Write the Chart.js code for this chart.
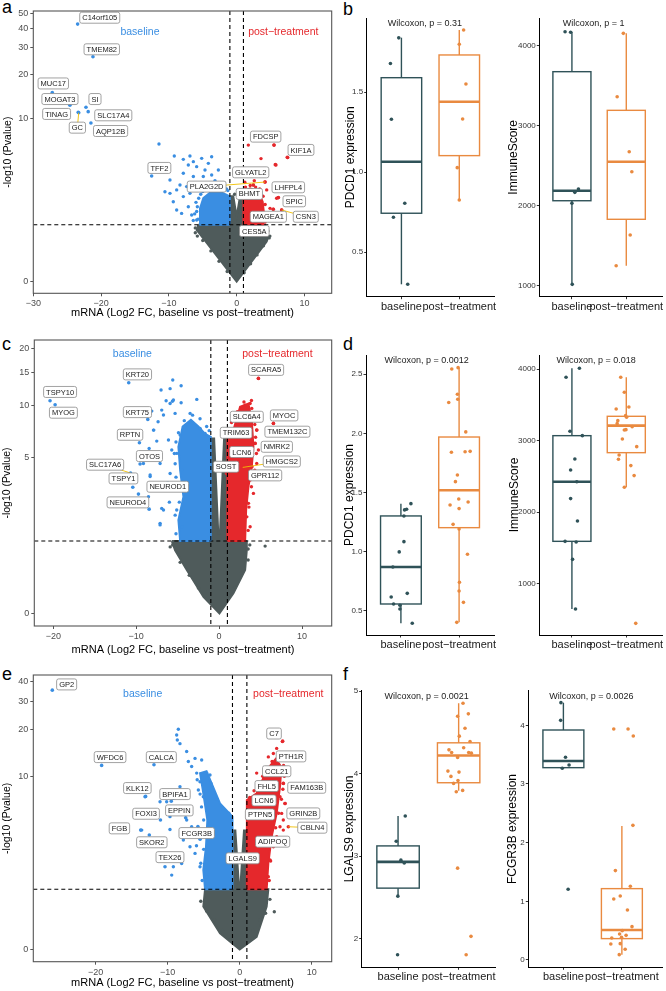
<!DOCTYPE html>
<html>
<head>
<meta charset="utf-8">
<title>Volcano plots and box plots</title>
<script src="https://cdn.jsdelivr.net/npm/chart.js"></script>
<style>
  body { margin: 0; background: #fff; width: 666px; height: 991px; position: relative; overflow: hidden;
         font-family: "Liberation Sans", Arial, sans-serif; }
  canvas { position: absolute; }
  .tag { position: absolute; font-size: 18px; line-height: 18px; color: #000; }
</style>
</head>
<body>
<div class="tag" style="left:2px;top:-2px">a</div>
<div class="tag" style="left:343px;top:0px">b</div>
<div class="tag" style="left:2px;top:335px">c</div>
<div class="tag" style="left:343px;top:335px">d</div>
<div class="tag" style="left:2px;top:665px">e</div>
<div class="tag" style="left:343px;top:665px">f</div>

<canvas id="volA" width="336" height="322" style="left:0;top:0"></canvas>
<canvas id="volC" width="336" height="329" style="left:0;top:330px"></canvas>
<canvas id="volE" width="336" height="331" style="left:0;top:660px"></canvas>
<canvas id="boxB1" width="160" height="322" style="left:340px;top:0"></canvas>
<canvas id="boxB2" width="166" height="322" style="left:500px;top:0"></canvas>
<canvas id="boxD1" width="160" height="329" style="left:340px;top:330px"></canvas>
<canvas id="boxD2" width="166" height="329" style="left:500px;top:330px"></canvas>
<canvas id="boxF1" width="160" height="331" style="left:340px;top:660px"></canvas>
<canvas id="boxF2" width="166" height="331" style="left:500px;top:660px"></canvas>

<script>
// ---------- shared ----------
const groupNames = ['baseline', 'post\u2212treatment'];
const pCutoff = 0.05;   // horizontal dashed line
const fcCutoff = 1;     // vertical dashed lines at +-1

// ---------- panel a (volcano) ----------
const aXTicks = [-30, -20, -10, 0, 10];
const aYTicks = [0, 10, 20, 30, 40, 50];
const aGenes = ['C14orf105','TMEM82','MUC17','MOGAT3','SI','TINAG','SLC17A4','GC','AQP12B','TFF2',
                'FDCSP','KIF1A','GLYATL2','PLA2G2D','LHFPL4','BHMT','SPIC','MAGEA1','CSN3','CES5A'];
const aGeneFC = [-23.46,-21.2,-27.2,-24.6,-22.23,-23.37,-21.9,-23.3,-21.5,-12.54,
                 5.51,7.47,2.46,4.18,5.7,1.87,6.15,5.4,6.64,1.5];
const aGeneP  = [42.7,26.1,15.0,12.3,11.9,10.98,11.1,10.9,9.25,3.71,
                 6.41,5.19,3.13,3.31,4.56,2.4,2.43,1.89,1.86,1.4];
const aBluePts = [[-11.46,6.53],[-9.2,5.31],[-7.87,5.01],[-6.89,5.31],[-6.39,4.81],[-5.16,5.1],[-3.69,5.25],
  [-4.18,4.67],[-5.9,4.4],[-7.13,4.53],[-4.67,4.14],[-2.7,4.14],[-7.87,3.9],[-6.39,3.67],[-4.92,3.67],
  [-3.69,3.78],[-9.84,3.44],[-8.36,3.13],[-7.38,3.03],[-10.58,2.74],[-9.84,2.65],[-8.85,2.84],[-7.87,2.48],
  [-6.89,2.65],[-9.35,2.23],[-8.85,1.86],[-8.12,1.72],[-7.13,2.0],[-6.64,1.66],[-5.9,1.47],[-2.95,3.13],
  [-6.0,2.2],[-5.9,1.8],[-6.4,1.45],[-5.2,3.0],[-4.4,3.2],[-3.2,3.4],[-2.0,3.0],[-1.5,2.9],
  [-5.7,1.5],[-5.8,2.0],[-5.6,2.4],[-5.3,2.6],[-4.6,2.9],[-3.9,3.0],[-3.0,3.0],[-2.2,2.95],[-1.3,2.8],
  [-6.2,1.7],[-5.0,2.75],[-3.5,2.9]];
const aRedPts = [[1.72,6.41],[5.51,6.41],[7.53,5.17],[5.8,4.53],[3.59,5.08],[4.43,2.84],[5.9,2.4],[6.64,1.86],
  [4.92,1.93],[3.44,2.48],[2.46,3.13],[4.18,3.31],[6.15,2.43],[5.4,1.89],
  [1.3,3.0],[2.0,3.1],[2.8,3.0],[3.4,2.9],[3.9,2.5],[4.2,2.1],[4.3,1.6],[4.2,1.4],[1.2,3.3],[2.6,3.4]];
const aGreyPts = [[-6.1,1.2],[-5.8,0.95],[4.8,0.9],[4.6,1.1],[-0.3,2.6],[0.4,2.4],
  [-1.4,0.16],[-2.6,0.35],[-3.8,0.57],[-5.0,0.83],[-6.1,1.05],[1.1,0.14],[2.05,0.30],[3.0,0.48],[3.95,0.69],[4.9,0.95]];
const aGreyArea = [[-5.66,1.30],[-1,1.30],[-1,2.5],[-0.5,2.5],[0,1.6],[0.5,2.5],[1,2.5],[1,1.30],[4.18,1.30],
  [4.67,0.93],[4.43,0.80],[0,0],[-5.5,1.03],[-5.9,1.13],[-5.66,1.30]];
const aBlueArea = [[-1,1.30],[-5.5,1.30],[-5.41,1.93],[-4.92,2.4],[-3.93,2.69],[-2.46,2.74],[-1.38,2.56],
  [-1,2.48],[-1,1.30]];
const aRedArea = [[1,1.30],[1,2.74],[1.97,2.93],[3.2,2.74],[3.84,2.23],[4.03,1.72],[3.93,1.30],[1,1.30]];

// ---------- panel c (volcano) ----------
const cXTicks = [-20, -10, 0, 10];
const cYTicks = [0, 5, 10, 15, 20];
const cGenes = ['TSPY10','MYOG','KRT20','KRT75','RPTN','OTOS','SLC17A6','TSPY1','NEUROD1','NEUROD4',
                'SCARA5','SLC6A4','MYOC','TRIM63','TMEM132C','NMRK2','LCN6','HMGCS2','SOST','GPR112'];
const cGeneFC = [-20.39,-19.78,-10.9,-8.6,-9.61,-9.53,-10.68,-10.41,-9.73,-8.44,
                 4.74,2.5,6.55,2.0,4.54,4.34,2.5,2.85,0.9,3.94];
const cGeneP  = [10.57,10.05,13.24,8.33,6.13,4.58,4.03,3.27,2.95,2.32,
                 13.96,8.0,7.91,6.5,7.25,6.08,5.0,4.37,4.0,4.41];
const cBluePts = [[-4.58,12.75],[-5.91,12.3],[-5.51,10.66],[-5.91,10.2],[-5.31,9.0],[-2.69,10.75],[-3.5,9.0],
  [-6.92,9.39],[-6.71,8.81],[-7.92,7.25],[-6.11,6.36],[-5.71,5.56],[-7.12,4.62],[-8.32,3.83],[-7.92,3.30],
  [-8.52,2.83],[-7.12,1.82],[-6.92,2.35],[-5.91,4.01],[-5.51,3.30],[-5.11,2.29],[-4.5,1.71],[-1.69,6.94],
  [-2.29,7.41],[-3.3,7.91],[-4.1,7.58],[-4.7,6.79],[-5.11,5.31],[-4.5,4.21],[-5.59,13.7],[-7.0,12.1],
  [-6.39,10.57],[-5.63,10.5],[-4.58,10.3],[-8.12,9.27],[-7.36,8.09],[-7.88,7.25],[-7.52,6.27],[-8.44,5.68],
  [-9.13,4.62],[-8.32,3.92],[-6.71,2.29],[-7.12,1.77],
  [-5.2,1.5],[-5.3,2.1],[-4.8,2.6],[-5.0,3.2],[-5.2,3.8],[-5.3,4.6],[-5.4,5.3],[-5.2,6.2],[-4.9,7.0],
  [-4.2,8.2],[-3.2,8.8],[-2.3,8.4],[-1.5,7.6],[-1.2,7.2],[-6.0,2.6],[-6.2,3.5]];
const cRedPts = [[3.74,10.2],[3.14,10.0],[3.94,9.59],[4.14,8.62],[3.54,8.62],[6.55,7.91],[4.54,7.25],[3.94,6.64],
  [4.34,6.08],[4.74,5.56],[3.74,5.07],[4.54,4.62],[3.94,4.41],[3.74,3.64],[4.14,2.98],[3.54,2.55],[3.34,2.04],
  [3.74,1.71],[4.74,13.96],
  [3.5,1.6],[3.6,2.4],[3.9,3.3],[4.3,4.2],[4.5,5.3],[4.4,6.6],[4.3,7.8],[4.1,9.0],[3.9,10.6],[3.0,10.4],
  [2.2,9.2],[1.5,8.0],[1.2,7.2]];
const cGreyPts = [[5.55,1.17],[-5.6,1.2],[3.5,1.1],
  [-1.3,0.16],[-2.5,0.34],[-3.6,0.55],[-4.7,0.8],[-5.9,1.15],[1.0,0.2],[1.9,0.35],[2.7,0.6],[3.5,0.85],[3.7,1.2]];
const cGreyArea = [[-5.7,1.30],[-1,1.30],[-1,6.5],[-0.6,6.5],[-0.1,1.5],[0.1,1.5],[0.6,6.5],[1,6.5],[1,1.30],
  [3.3,1.30],[3.34,1.07],[3.14,0.65],[1.73,0.26],[0.04,0],[-1.89,0.21],[-3.9,0.65],[-5.31,1.07],[-5.7,1.30]];
const cBlueArea = [[-1,1.30],[-4.70,1.30],[-4.91,1.93],[-4.30,2.83],[-4.70,4.21],[-4.91,5.81],[-4.4,7.6],
  [-3.4,8.3],[-2.5,7.6],[-1.69,6.9],[-1,6.64],[-1,1.30]];
const cRedArea = [[1,1.30],[3.14,1.30],[3.26,2.29],[3.54,3.30],[3.94,4.41],[4.14,5.81],[3.94,8.26],[3.54,10.2],
  [2.53,9.8],[1.73,7.25],[1,6.64],[1,1.30]];

// ---------- panel e (volcano) ----------
const eXTicks = [-20, -10, 0, 10];
const eYTicks = [0, 10, 20, 30, 40];
const eGenes = ['GP2','WFDC6','CALCA','KLK12','BPIFA1','FOXI3','EPPIN','FGB','SKOR2','FCGR3B','TEX26','LGALS9',
                'C7','PTH1R','CCL21','FHL5','FAM163B','LCN6','GRIN2B','PTPN5','CBLN4','ADIPOQ'];
const eGeneFC = [-26.02,-19.17,-11.9,-13.06,-9.5,-11.0,-7.5,-13.75,-12.55,-5.5,-10.37,-1.2,
                 5.97,5.37,4.44,3.0,6.06,2.5,6.3,2.5,6.76,3.5];
const eGeneP  = [35.3,11.8,11.9,7.33,6.8,5.0,5.2,4.22,3.88,3.6,2.14,2.3,
                 16.9,13.0,11.6,8.5,8.97,6.5,6.55,5.2,4.47,3.2];
const eBluePts = [[-8.52,20.1],[-8.75,18.5],[-8.66,17.2],[-8.29,16.3],[-7.36,14.5],[-7.13,12.5],[-6.67,11.6],
  [-6.2,13.1],[-5.28,12.8],[-5.97,10.5],[-5.51,9.2],[-4.58,10.5],[-4.12,10.2],[-5.74,8.1],[-5.05,7.29],
  [-8.29,8.52],[-9.21,7.1],[-10.14,6.74],[-11.06,6.74],[-9.68,5.29],[-8.52,5.58],[-7.36,5.0],[-6.67,4.47],
  [-5.97,3.99],[-6.9,3.15],[-6.2,2.78],[-7.82,3.55],[-10.37,2.53],[-9.21,2.14],[-9.44,1.80],[-8.06,2.29],
  [-5.51,2.14],[-4.58,1.74],[-13.15,7.29],[-13.6,4.22],[-9.68,4.27],
  [-5.2,1.6],[-5.4,2.3],[-5.0,3.0],[-4.9,4.0],[-5.0,5.0],[-5.3,6.2],[-5.5,7.6],[-5.9,9.5],[-4.0,9.0],
  [-3.2,7.0],[-2.3,6.0],[-1.5,5.6],[-6.0,3.2],[-5.8,4.5]];
const eRedPts = [[5.93,16.8],[5.14,15.2],[4.68,14.1],[3.98,13.4],[5.14,12.8],[4.44,11.6],[3.75,10.2],[2.36,10.5],
  [5.37,10.2],[6.06,8.97],[5.14,8.52],[5.6,7.29],[6.3,6.55],[5.83,5.58],[6.06,5.0],[5.6,4.47],[6.06,4.22],
  [5.14,3.76],[4.68,3.15],[4.21,2.45],[3.98,1.74],
  [4.1,1.6],[4.3,2.4],[4.7,3.3],[5.0,4.4],[5.4,5.6],[5.8,7.0],[6.0,8.2],[6.2,10.0],[6.1,11.8],[4.5,12.5],
  [3.2,10.0],[2.0,8.0],[1.4,7.2]];
const eGreyPts = [[4.81,0.686],
  [-1.3,0.15],[-2.4,0.3],[-3.5,0.5],[-4.6,0.7],[-5.4,0.95],[1.0,0.14],[1.9,0.3],[2.8,0.5],[3.6,0.65],[4.2,1.0]];
const eGreyArea = [[-4.81,1.30],[-1,1.30],[-1,4.2],[-0.6,4.2],[-0.1,1.4],[0.1,1.4],[0.6,4.2],[1,4.2],[1,1.30],
  [3.98,1.30],[3.75,0.81],[2.36,0.19],[0,0],[-2.73,0.25],[-5.05,0.81],[-4.81,1.30]];
const eBlueArea = [[-1,1.30],[-4.81,1.30],[-5.05,2.0],[-4.68,3.15],[-4.49,5.0],[-5.05,7.68],[-5.5,10.5],
  [-4.6,10.8],[-2.73,6.56],[-1,5.29],[-1,1.30]];
const eRedArea = [[1,1.30],[3.75,1.30],[3.98,2.29],[4.44,3.76],[5.14,5.58],[5.6,8.52],[5.8,11.5],[5.0,13.0],
  [3.75,11.0],[2.36,7.68],[1,6.91],[1,1.30]];

// ---------- panel b (box plots) ----------
const b1Base = [1.84,1.68,1.331,0.806,0.719,0.30];
const b1BaseJit = [-0.046,-0.19,-0.173,0.058,-0.138,0.109];
const b1Post = [1.889,1.80,1.552,1.333,1.029,0.827];
const b1PostJit = [0.075,0,0.115,0.058,-0.035,0];
const b1BaseBox = [0.30,0.744,1.066,1.591,1.841];   // lower whisker, q1, median, q3, upper whisker
const b1PostBox = [0.827,1.104,1.441,1.733,1.889];
const b1YTicks = [0.5, 1.0, 1.5];

const b2Base = [4175,4167,2209,2167,2030,1017];
const b2BaseJit = [-0.126,-0.024,0.12,0.054,0,0.006];
const b2Post = [4154,3362,2675,2425,1634,1250];
const b2PostJit = [-0.054,-0.168,0.054,0.102,0.072,-0.186];
const b2BaseBox = [1017,2062,2187,3675,4175];
const b2PostBox = [1250,1830,2550,3192,4154];
const b2YTicks = [1000, 2000, 3000, 4000];

// ---------- panel d (box plots) ----------
const d1Base = [1.407,1.359,1.354,1.303,1.086,0.999,0.872,0.649,0.618,0.559,0.548,0.517,0.396];
const d1BaseJit = [0.172,0.098,0.063,0.052,0.052,-0.029,-0.138,0.109,-0.167,-0.126,-0.017,-0.017,0.195];
const d1Post = [2.545,2.556,2.331,2.289,2.261,2.013,1.841,1.846,1.849,1.649,1.593,1.446,1.421,1.396,1.365,
                1.232,1.193,0.979,0.742,0.669,0.573,0.404];
const d1PostJit = [-0.126,-0.017,-0.029,-0.023,-0.178,0.115,-0.132,0.103,0.19,-0.029,-0.063,-0.006,0.155,-0.155,0,
                   -0.103,0,0.144,0.006,0,0.075,-0.04];
const d1BaseBox = [0.396,0.559,0.872,1.303,1.407];
const d1PostBox = [0.404,1.204,1.520,1.970,2.556];
const d1YTicks = [0.5, 1.0, 1.5, 2.0, 2.5];

const d2Base = [4014,3888,3132,3071,2745,2591,2427,2190,1877,1592,1583,1340,645];
const d2BaseJit = [0.138,-0.108,-0.036,0.192,0.054,-0.024,0.09,-0.024,0.102,-0.126,0.078,0.012,0.066];
const d2Post = [3888,3678,3445,3473,3351,3328,3281,3239,3155,3151,3197,3025,2917,2801,2740,2652,2512,2348,444];
const d2PostJit = [-0.102,-0.036,-0.186,0.048,-0.012,0.006,-0.156,-0.168,-0.006,-0.036,0.108,-0.072,0.192,
                   -0.132,-0.144,0.084,0.144,-0.036,0.174];
const d2BaseBox = [645,1592,2427,3071,4014];
const d2PostBox = [2348,2833,3211,3342,3888];
const d2YTicks = [1000, 2000, 3000, 4000];

// ---------- panel f (box plots) ----------
const f1Base = [3.488,3.181,2.952,2.919,2.516,1.806];
const f1BaseJit = [0.119,-0.03,0.047,0.102,-0.003,-0.008];
const f1Post = [4.855,4.726,4.698,4.552,4.456,4.391,4.315,4.29,4.258,4.258,4.25,4.198,4.032,4.02,3.968,3.919,
                3.883,3.798,3.782,2.855,2.028,1.806];
const f1PostJit = [0.072,0.16,-0.017,0.105,0.011,0.188,0.083,-0.16,-0.116,0.166,0.21,-0.017,-0.177,0.006,-0.127,
                   -0.011,-0.083,0.066,-0.039,-0.017,0.204,0.124];
const f1BaseBox = [2.516,2.613,2.931,3.125,3.488];
const f1PostBox = [3.794,3.891,4.222,4.375,4.855];
const f1YTicks = [2, 3, 4, 5];

const f2Base = [4.386,4.085,3.455,3.324,3.267,1.205];
const f2BaseJit = [-0.042,-0.047,0.036,0.097,-0.019,0.081];
const f2Post = [3.938,3.938,3.818,2.295,1.523,1.256,1.091,1.04,0.852,0.568,0.5,0.443,0.42,0.386,0.375,0.278,
                0.273,0.182,0.091];
const f2PostJit = [-0.139,0.106,0.195,0.189,-0.111,0.145,-0.028,-0.139,0.095,0.173,0.006,-0.039,0.072,-0.006,
                   -0.173,-0.028,-0.189,0.056,-0.045];
const f2BaseBox = [3.267,3.278,3.392,3.92,4.386];
const f2PostBox = [0.091,0.364,0.511,1.216,2.284];
const f2YTicks = [0, 1, 2, 3, 4];

// ---------- styling ----------
const FONT = '"Liberation Sans", Arial, sans-serif';
const BLUE = '#3a8ee2', RED = '#e5282c', GREY = '#4f5b5b';
const TEAL = '#2f5258', ORANGE = '#e98a40', LEADER = '#f0c000';
Chart.defaults.font.family = FONT;

const tr = v => Math.log10(1 + v);          // y axis of volcano plots is log10(1 + -log10 P)
const pts = list => list.map(p => ({x: p[0], y: tr(p[1])}));
const minus = v => (v < 0 ? '\u2212' + Math.abs(v) : String(v));

function line(ctx, x1, y1, x2, y2) {
  ctx.beginPath(); ctx.moveTo(x1, y1); ctx.lineTo(x2, y2); ctx.stroke();
}

function volcano(id, v) {
  const cv = document.getElementById(id);
  const W = cv.width, H = cv.height, A = v.area;
  const shape = (data, color, order) => ({data: pts(data), showLine: true, fill: 'shape', tension: 0,
    backgroundColor: color, borderColor: color, borderWidth: 2, pointRadius: 0, order});
  const dots = (data, color, order) => ({data: pts(data), backgroundColor: color, borderWidth: 0,
    pointRadius: 1.7, order});
  const genePts = v.genes.map((g, i) => ({x: v.fc[i], y: tr(v.p[i])}));

  const decor = {
    id: 'decor',
    afterDatasetsDraw(chart) {
      const {ctx, chartArea: a, scales: {x, y}} = chart;
      ctx.save();
      ctx.strokeStyle = '#000'; ctx.lineWidth = 1.1; ctx.setLineDash([4, 3]);
      [-fcCutoff, fcCutoff].forEach(f => { const px = x.getPixelForValue(f); line(ctx, px, a.top, px, a.bottom); });
      const py = y.getPixelForValue(tr(-Math.log10(pCutoff)));
      line(ctx, a.left, py, a.right, py);
      ctx.setLineDash([]);

      // leader segments
      ctx.strokeStyle = LEADER; ctx.lineWidth = 0.9;
      v.leaders.forEach(g => {
        const i = v.genes.indexOf(g), at = v.labelAt[g];
        line(ctx, x.getPixelForValue(at[0]), y.getPixelForValue(tr(at[1])),
             x.getPixelForValue(v.fc[i]), y.getPixelForValue(tr(v.p[i])));
      });

      // label boxes
      ctx.font = '7.5px ' + FONT; ctx.textAlign = 'center'; ctx.textBaseline = 'middle';
      Object.keys(v.labelAt).forEach(g => {
        const at = v.labelAt[g];
        const cx = x.getPixelForValue(at[0]), cy = y.getPixelForValue(tr(at[1]));
        const w = ctx.measureText(g).width + 5, h = 11;
        ctx.beginPath(); ctx.roundRect(cx - w / 2, cy - h / 2, w, h, 2);
        ctx.fillStyle = '#fff'; ctx.fill();
        ctx.strokeStyle = '#8a8a8a'; ctx.lineWidth = 0.8; ctx.stroke();
        ctx.fillStyle = '#1a1a1a'; ctx.fillText(g, cx, cy + 0.5);
      });

      // group names
      ctx.font = '10.5px ' + FONT;
      ctx.fillStyle = BLUE;
      ctx.fillText('baseline', x.getPixelForValue(v.textAt.base[0]), y.getPixelForValue(tr(v.textAt.base[1])));
      ctx.fillStyle = RED;
      ctx.fillText('post\u2212treatment', x.getPixelForValue(v.textAt.post[0]), y.getPixelForValue(tr(v.textAt.post[1])));
      ctx.restore();
    },
    afterDraw(chart) {
      const {ctx, chartArea: a} = chart;
      ctx.save(); ctx.strokeStyle = '#555'; ctx.lineWidth = 1.1;
      ctx.strokeRect(a.left, a.top, a.right - a.left, a.bottom - a.top);
      ctx.restore();
    }
  };

  return new Chart(cv, {
    type: 'scatter',
    data: {datasets: [
      shape(v.greyArea, GREY, 10), shape(v.blueArea, BLUE, 9), shape(v.redArea, RED, 9),
      dots(v.greyPts, GREY, 8), dots(v.bluePts, BLUE, 7), dots(v.redPts, RED, 7),
      {data: genePts, backgroundColor: genePts.map(p => (p.x < 0 ? BLUE : RED)), borderWidth: 0, pointRadius: 1.8, order: 6}
    ]},
    options: {
      responsive: false, animation: false, events: [],
      layout: {padding: {top: A[1], right: W - A[2], left: 0, bottom: 0}},
      plugins: {legend: {display: false}, tooltip: {enabled: false}},
      scales: {
        x: {
          type: 'linear', min: v.xRange[0], max: v.xRange[1], bounds: 'data',
          afterBuildTicks: s => { s.ticks = v.xTicks.map(t => ({value: t})); },
          afterFit: s => { s.height = H - A[3]; s.paddingLeft = 0; s.paddingRight = 0; },
          ticks: {callback: t => minus(t), font: {size: 9}, color: '#4d4d4d', padding: 2, autoSkip: false, maxRotation: 0},
          grid: {drawOnChartArea: false, tickLength: 3, color: '#555'},
          border: {display: false},
          title: {display: true, text: 'mRNA (Log2 FC, baseline vs post\u2212treatment)', font: {size: 11},
                  color: '#000', padding: {top: 0, bottom: v.xTitlePad}}
        },
        y: {
          type: 'linear', min: v.tRange[0], max: v.tRange[1], bounds: 'data',
          afterBuildTicks: s => { s.ticks = v.yTicks.map(t => ({value: tr(t)})); },
          afterFit: s => { s.width = A[0]; s.paddingTop = 0; s.paddingBottom = 0; },
          ticks: {callback: t => String(Math.round(Math.pow(10, t) - 1)), font: {size: 9}, color: '#4d4d4d', padding: 2, autoSkip: false},
          grid: {drawOnChartArea: false, tickLength: 3, color: '#555'},
          border: {display: false},
          title: {display: true, text: '-log10 (Pvalue)', font: {size: 10.5}, color: '#000',
                  padding: {top: v.yTitlePad, bottom: 0}}
        }
      }
    },
    plugins: [decor]
  });
}

function boxplot(id, b) {
  const cv = document.getElementById(id);
  const W = cv.width, H = cv.height, A = b.area;
  const groups = [
    {vals: b.base, jit: b.baseJit, box: b.baseBox, color: TEAL},
    {vals: b.post, jit: b.postJit, box: b.postBox, color: ORANGE}
  ];
  const boxes = {
    id: 'boxes',
    beforeDatasetsDraw(chart) {
      const {ctx, scales: {x, y}} = chart;
      ctx.save();
      groups.forEach((g, k) => {
        const cx = x.getPixelForValue(k + 1);
        const l = x.getPixelForValue(k + 1 - 0.35), r = x.getPixelForValue(k + 1 + 0.35);
        const [lo, q1, med, q3, hi] = g.box.map(val => y.getPixelForValue(val));
        ctx.strokeStyle = g.color; ctx.lineWidth = 1.4;
        line(ctx, cx, hi, cx, q3); line(ctx, cx, q1, cx, lo);
        ctx.strokeRect(l, q3, r - l, q1 - q3);
        ctx.lineWidth = 2.6; line(ctx, l, med, r, med);
      });
      ctx.restore();
    },
    afterDraw(chart) {
      const {ctx, chartArea: a, scales: {x}} = chart;
      ctx.save();
      ctx.font = '9px ' + FONT; ctx.fillStyle = '#222'; ctx.textAlign = 'center'; ctx.textBaseline = 'middle';
      ctx.fillText(b.test, x.getPixelForValue(b.testX), a.top + 6);
      ctx.restore();
    }
  };
  return new Chart(cv, {
    type: 'scatter',
    data: {datasets: groups.map((g, k) => ({
      data: g.vals.map((val, i) => ({x: k + 1 + g.jit[i], y: val})),
      backgroundColor: g.color, borderWidth: 0, pointRadius: 1.8
    }))},
    options: {
      responsive: false, animation: false, events: [],
      layout: {padding: {top: A[1], right: W - A[2], left: 0, bottom: 0}},
      plugins: {legend: {display: false}, tooltip: {enabled: false}},
      scales: {
        x: {
          type: 'linear', min: 0.4, max: b.xMax, bounds: 'data',
          afterBuildTicks: s => { s.ticks = [{value: 1}, {value: 2}]; },
          afterFit: s => { s.height = H - A[3]; s.paddingLeft = 0; s.paddingRight = 0; },
          ticks: {callback: t => groupNames[t - 1], font: {size: 11}, color: '#1a1a1a', padding: 1, autoSkip: false, maxRotation: 0},
          grid: {drawOnChartArea: false, tickLength: 2.5, color: '#333'},
          border: {display: true, color: '#000', width: 1}
        },
        y: {
          type: 'linear', min: b.yRange[0], max: b.yRange[1], bounds: 'data',
          afterBuildTicks: s => { s.ticks = b.yTicks.map(t => ({value: t})); },
          afterFit: s => { s.width = A[0]; s.paddingTop = 0; s.paddingBottom = 0; },
          ticks: {callback: t => t.toFixed(b.dec), font: {size: 8}, color: '#333', padding: 1, autoSkip: false},
          grid: {drawOnChartArea: false, tickLength: 2.5, color: '#333'},
          border: {display: true, color: '#000', width: 1},
          title: {display: true, text: b.yTitle, font: {size: 12}, color: '#000', padding: {top: b.yTitlePad, bottom: 0}}
        }
      }
    },
    plugins: [boxes]
  });
}

// ---------- build ----------
volcano('volA', {
  genes: aGenes, fc: aGeneFC, p: aGeneP, bluePts: aBluePts, redPts: aRedPts, greyPts: aGreyPts,
  greyArea: aGreyArea, blueArea: aBlueArea, redArea: aRedArea, xTicks: aXTicks, yTicks: aYTicks,
  xRange: [-30, 14.02], tRange: [-0.0743, 1.724], area: [33.3, 11, 331.7, 293.3], xTitlePad: 2.1, yTitlePad: 1.7,
  textAt: {base: [-14.26, 38.1], post: [6.88, 38.1]},
  leaders: ['GC', 'PLA2G2D', 'CSN3'],
  labelAt: {C14orf105: [-20.2, 47.0], TMEM82: [-19.9, 29.2], MUC17: [-27.05, 17.3], MOGAT3: [-26.07, 13.56],
    SI: [-20.9, 13.56], TINAG: [-26.56, 10.7], SLC17A4: [-18.2, 10.47], GC: [-23.5, 8.57], AQP12B: [-18.6, 8.11],
    TFF2: [-11.4, 4.3], FDCSP: [4.28, 7.39], KIF1A: [9.49, 5.9], GLYATL2: [2.07, 3.97], PLA2G2D: [-4.43, 3.03],
    LHFPL4: [7.62, 2.99], BHMT: [1.87, 2.62], SPIC: [8.5, 2.25], MAGEA1: [4.67, 1.59], CSN3: [10.2, 1.59],
    CES5A: [2.6, 1.10]}
});

volcano('volC', {
  genes: cGenes, fc: cGeneFC, p: cGeneP, bluePts: cBluePts, redPts: cRedPts, greyPts: cGreyPts,
  greyArea: cGreyArea, blueArea: cBlueArea, redArea: cRedArea, xTicks: cXTicks, yTicks: cYTicks,
  xRange: [-22.29, 13.58], tRange: [-0.063, 1.367], area: [34.3, 10, 331.7, 296], xTitlePad: 2.4, yTitlePad: 1,
  textAt: {base: [-10.46, 18.8], post: [7.03, 18.8]},
  leaders: ['SLC17A6', 'HMGCS2'],
  labelAt: {TSPY10: [-19.18, 11.8], MYOG: [-18.78, 9.08], KRT20: [-9.85, 14.67], KRT75: [-9.85, 9.15],
    RPTN: [-10.74, 6.82], OTOS: [-8.4, 5.12], SLC17A6: [-13.75, 4.54], TSPY1: [-11.54, 3.73],
    NEUROD1: [-6.19, 3.3], NEUROD4: [-11.0, 2.59], SCARA5: [5.67, 15.5], SLC6A4: [3.34, 8.62], MYOC: [7.84, 8.77],
    TRIM63: [2.05, 7.0], TMEM132C: [8.24, 7.1], NMRK2: [6.96, 5.81], LCN6: [2.73, 5.41], HMGCS2: [7.56, 4.75],
    SOST: [0.84, 4.41], GPR112: [5.55, 3.9]}
});

volcano('volE', {
  genes: eGenes, fc: eGeneFC, p: eGeneP, bluePts: eBluePts, redPts: eRedPts, greyPts: eGreyPts,
  greyArea: eGreyArea, blueArea: eBlueArea, redArea: eRedArea, xTicks: eXTicks, yTicks: eYTicks,
  xRange: [-28.66, 12.78], tRange: [-0.074, 1.651], area: [33.3, 15, 331.7, 301.7], xTitlePad: 1.1, yTitlePad: 0.4,
  textAt: {base: [-13.47, 33.4], post: [6.75, 33.4]},
  leaders: ['CBLN4'],
  labelAt: {GP2: [-24.03, 38.3], WFDC6: [-18.0, 13.36], CALCA: [-10.88, 13.36], KLK12: [-14.21, 8.35],
    BPIFA1: [-8.98, 7.6], FOXI3: [-13.0, 5.55], EPPIN: [-8.38, 5.86], FGB: [-16.7, 4.35], SKOR2: [-12.2, 3.41],
    FCGR3B: [-5.97, 4.01], TEX26: [-9.68, 2.59], LGALS9: [0.42, 2.53], C7: [4.77, 18.9], PTH1R: [7.13, 13.5],
    CCL21: [5.14, 10.8], FHL5: [3.75, 8.61], FAM163B: [9.31, 8.39], LCN6: [3.38, 6.88], GRIN2B: [8.84, 5.58],
    PTPN5: [2.82, 5.49], CBLN4: [10.09, 4.4], ADIPOQ: [4.58, 3.45]}
});

boxplot('boxB1', {base: b1Base, baseJit: b1BaseJit, post: b1Post, postJit: b1PostJit, baseBox: b1BaseBox, postBox: b1PostBox,
  yTicks: b1YTicks, yRange: [0.2225, 1.964], dec: 1, yTitle: 'PDCD1 expression', test: 'Wilcoxon, p = 0.31',
  area: [26.7, 18, 154, 296.7], xMax: 2.6, testX: 1.407, yTitlePad: 3});
boxplot('boxB2', {base: b2Base, baseJit: b2BaseJit, post: b2Post, postJit: b2PostJit, baseBox: b2BaseBox, postBox: b2PostBox,
  yTicks: b2YTicks, yRange: [862.5, 4346], dec: 0, yTitle: 'ImmuneScore', test: 'Wilcoxon, p = 1',
  area: [39.3, 18, 165, 296.7], xMax: 2.657, testX: 1.4, yTitlePad: 6.3});
boxplot('boxD1', {base: d1Base, baseJit: d1BaseJit, post: d1Post, postJit: d1PostJit, baseBox: d1BaseBox, postBox: d1PostBox,
  yTicks: d1YTicks, yRange: [0.297, 2.663], dec: 1, yTitle: 'PDCD1 expression', test: 'Wilcoxon, p = 0.0012',
  area: [26, 25, 154, 305], xMax: 2.6, testX: 1.443, yTitlePad: 2.3});
boxplot('boxD2', {base: d2Base, baseJit: d2BaseJit, post: d2Post, postJit: d2PostJit, baseBox: d2BaseBox, postBox: d2PostBox,
  yTicks: d2YTicks, yRange: [281, 4200], dec: 0, yTitle: 'ImmuneScore', test: 'Wilcoxon, p = 0.018',
  area: [39.3, 25, 165, 305], xMax: 2.657, testX: 1.445, yTitlePad: 7});
boxplot('boxF1', {base: f1Base, baseJit: f1BaseJit, post: f1Post, postJit: f1PostJit, baseBox: f1BaseBox, postBox: f1PostBox,
  yTicks: f1YTicks, yRange: [1.653, 5.007], dec: 0, yTitle: 'LGALS9 expression', test: 'Wilcoxon, p = 0.0021',
  area: [21.7, 30.7, 155, 307.3], xMax: 2.6, testX: 1.473, yTitlePad: 2.3});
boxplot('boxF2', {base: f2Base, baseJit: f2BaseJit, post: f2Post, postJit: f2PostJit, baseBox: f2BaseBox, postBox: f2PostBox,
  yTicks: f2YTicks, yRange: [-0.125, 4.59], dec: 0, yTitle: 'FCGR3B expression', test: 'Wilcoxon, p = 0.0026',
  area: [28.3, 30.7, 165, 307.3], xMax: 2.686, testX: 1.479, yTitlePad: 5.7});
</script>
</body>
</html>
